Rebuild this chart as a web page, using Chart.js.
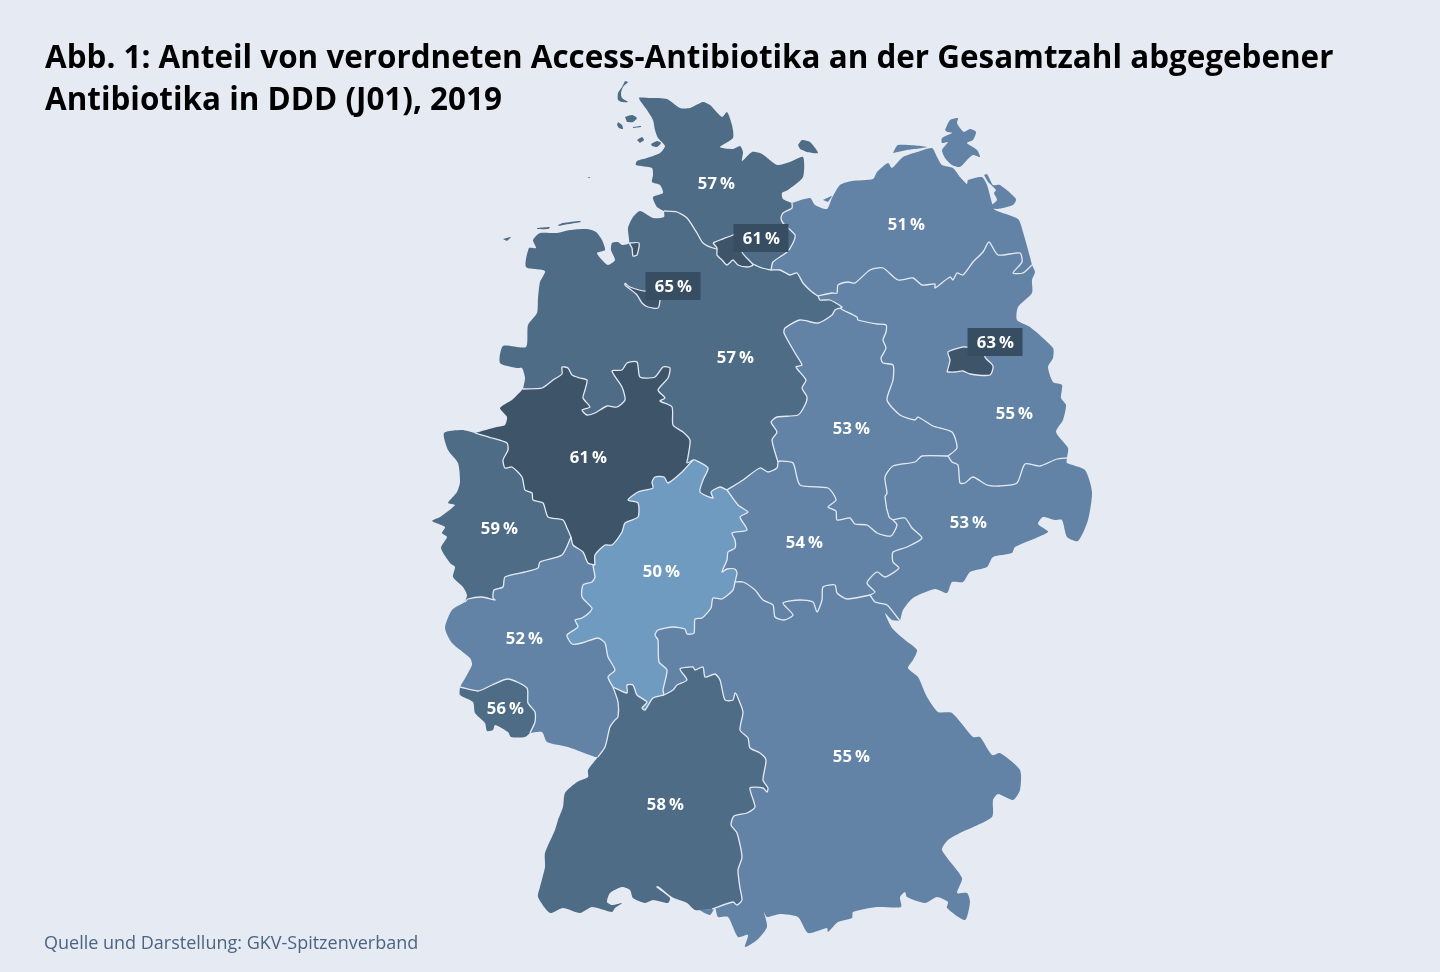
<!DOCTYPE html>
<html lang="de"><head><meta charset="utf-8">
<script src="https://cdn.jsdelivr.net/npm/chart.js@4"></script>
<style>
html,body{margin:0;padding:0;background:#e5eaf3;width:1440px;height:972px;overflow:hidden}
#c{position:absolute;left:0;top:0;width:1440px;height:972px}
#t{position:absolute;left:45px;top:35px;margin:0;font:700 31.4px/42px "Open Sans";color:#000;white-space:nowrap}
#s{position:absolute;left:44px;top:930px;font:400 18px/24px "Open Sans";color:#4b6480;white-space:nowrap}
</style></head><body>
<canvas id="c" width="1440" height="972"></canvas>
<h1 id="t">Abb. 1: Anteil von verordneten Access-Antibiotika an der Gesamtzahl abgegebener<br>Antibiotika in DDD (J01), 2019</h1>
<div id="s">Quelle und Darstellung: GKV-Spitzenverband</div>
<script>
// ---- values ----
const labelTexts=["57 %","61 %","51 %","65 %","57 %","63 %","55 %","53 %","61 %","53 %","54 %","59 %","50 %","52 %","56 %","58 %","55 %"];
const labelX=[716,761,906,673,735,995,1014,851,588,968,804,499,661,524,505,665,851];
const labelY=[183,238,224,286,357,342,413,428,457,522,542,528,571,638,708,804,756];
const labelBoxed=[0,1,0,1,0,1,0,0,0,0,0,0,0,0,0,0,0];

// ---- shared borders (map coordinates) ----
const borderSHNds=[[664,211],[677,212],[687,218],[697,233],[703,243],[713,248],[730,252],[753,264],[762,268],[771,270]];
const borderSHMV=[[792,203],[792,208],[783,213],[781,218],[783,223],[795,235],[793,243],[787,252],[773,262],[771,270]];
const borderNdsMV=[[771,270],[780,270],[790,275],[797,273],[803,283],[812,292],[818,296]];
const borderNdsBB=[[818,296],[820,300],[830,300],[842,307],[840,308]];
const borderBBMV=[[818,296],[832,293],[837,293],[838,285],[848,282],[855,283],[870,270],[883,268],[898,280],[913,278],[922,285],[935,284],[935,288],[950,277],[953,280],[957,273],[963,275],[973,262],[983,252],[989,242],[998,255],[1020,253],[1022,262],[1013,273],[1023,273],[1032,265]];
const borderNdsST=[[840,308],[835,310],[832,315],[818,323],[800,320],[785,328],[784,333],[795,353],[802,365],[796,367],[806,380],[802,388],[807,397],[805,405],[798,415],[777,417],[771,422],[777,432],[772,440],[778,462]];
const borderNdsThu=[[778,462],[777,468],[768,472],[760,468],[743,480],[727,490]];
const borderNdsHes=[[727,490],[720,487],[711,492],[713,498],[700,492],[703,480],[708,468],[695,460],[693,460]];
const borderNRWNds=[[523,389],[542,388],[553,380],[562,374],[562,367],[568,368],[572,375],[580,378],[587,380],[585,390],[583,398],[590,407],[582,410],[587,415],[595,413],[607,406],[617,407],[625,400],[622,387],[612,371],[622,370],[627,363],[637,362],[640,377],[655,377],[663,367],[670,368],[668,378],[658,390],[665,398],[660,401],[672,407],[673,425],[683,432],[690,440],[688,457],[687,463],[693,460]];
const borderNRWHes=[[693,460],[682,472],[668,483],[664,477],[655,477],[652,482],[653,488],[638,492],[628,500],[638,503],[638,517],[625,523],[622,532],[612,545],[605,545],[595,555],[595,565]];
const borderNRWRP=[[595,565],[588,563],[583,552],[573,545],[571,537]];
const border59NRW=[[475,433],[492,438],[507,443],[508,450],[503,460],[505,468],[512,467],[522,477],[525,490],[532,493],[533,500],[543,503],[548,517],[563,520],[567,528],[571,537]];
const border5952=[[571,537],[562,555],[540,562],[538,568],[525,572],[505,577],[503,587],[494,590],[493,598],[495,600],[482,597],[468,599],[465,602]];
const borderRPHes=[[595,565],[593,565],[595,577],[592,582],[583,585],[582,597],[592,608],[590,612],[582,618],[575,620],[578,627],[567,635],[572,644],[582,643],[598,638],[605,643],[608,657],[615,670],[608,677],[613,687]];
const borderHesBW=[[664,695],[653,698],[645,710],[642,708],[647,702],[637,695],[633,685],[627,685],[627,693],[613,687]];
const borderHesBav=[[735,582],[733,590],[722,599],[713,598],[711,608],[702,618],[695,619],[694,633],[687,634],[685,629],[673,627],[658,630],[655,635],[658,640],[659,662],[667,670],[663,690],[664,695]];
const borderHesThu=[[735,582],[737,573],[735,569],[727,569],[722,572],[727,560],[728,552],[735,548],[735,540],[732,533],[747,530],[740,517],[748,512],[738,505],[727,490]];
const borderSTBB=[[840,308],[843,310],[857,317],[858,320],[877,324],[886,325],[886,332],[883,340],[886,348],[881,358],[883,363],[893,365],[893,380],[887,400],[900,415],[915,420],[918,417],[933,426],[952,432],[957,448],[948,456]];
const borderBBSax=[[948,456],[952,462],[958,465],[960,483],[965,483],[973,477],[987,485],[1000,486],[1017,483],[1025,464],[1040,466],[1057,459],[1067,458]];
const borderSTSax=[[948,456],[922,456],[915,462],[893,466],[885,477],[887,493],[885,497],[889,517],[893,520]];
const borderSTThu=[[778,462],[780,461],[793,463],[800,485],[828,488],[836,500],[828,507],[836,511],[837,520],[850,518],[855,524],[867,525],[877,533],[891,536],[897,525],[893,520]];
const borderSaxThu=[[893,520],[905,518],[912,528],[922,538],[907,547],[893,552],[893,562],[899,568],[885,577],[877,572],[867,583],[875,592],[870,595]];
const borderThuBav=[[870,595],[847,599],[837,593],[835,585],[823,587],[822,600],[817,612],[813,602],[800,600],[783,603],[793,615],[784,620],[775,617],[773,605],[763,600],[755,590],[743,582],[735,582]];
const borderSaxBav=[[870,595],[875,602],[887,605],[897,617],[900,621]];
const borderBWBav=[[664,695],[673,690],[677,685],[687,680],[680,669],[693,667],[695,670],[703,667],[705,677],[715,674],[720,680],[725,700],[733,700],[735,693],[738,698],[743,712],[740,730],[748,738],[750,748],[760,753],[766,760],[763,780],[768,788],[767,792],[763,788],[750,788],[755,807],[747,813],[734,816],[731,825],[737,833],[742,857],[738,870],[740,888],[742,900],[737,905],[733,902],[712,909]];
const borderBWRP=[[613,687],[618,702],[618,717],[615,720],[610,727],[605,747],[598,757]];
const borderRPSaar=[[460,687],[478,691],[492,685],[508,679],[527,688],[528,703],[535,712],[535,722],[530,733]];

// ---- coasts and outer frontiers ----
const coastSH=[[664,211],[657,207],[653,197],[663,193],[660,185],[652,182],[653,175],[652,168],[636,165],[637,161],[647,158],[660,153],[665,146],[658,138],[655,130],[653,120],[647,110],[639,98],[650,98],[667,99],[680,108],[690,108],[703,102],[710,105],[722,117],[727,112],[732,125],[733,138],[720,147],[733,149],[740,146],[743,152],[742,161],[752,152],[762,154],[777,165],[790,162],[803,157],[803,177],[788,190],[782,193],[783,199],[792,203]];
const coastMV=[[792,203],[810,198],[815,205],[827,209],[832,198],[840,185],[852,181],[873,179],[877,172],[888,163],[892,168],[903,157],[917,152],[932,148],[937,157],[942,165],[953,168],[960,177],[967,184],[968,180],[982,177],[987,185],[992,203],[995,210],[1018,219],[1023,232],[1030,257],[1032,265]];
const coastBB=[[1032,265],[1035,272],[1032,280],[1032,293],[1018,307],[1017,320],[1030,327],[1053,348],[1053,358],[1048,367],[1053,382],[1062,385],[1061,398],[1066,405],[1063,420],[1056,432],[1068,448],[1067,458]];
const coastSax=[[1067,458],[1067,463],[1085,470],[1092,492],[1088,520],[1078,541],[1067,537],[1062,520],[1055,520],[1043,517],[1038,524],[1048,532],[1015,547],[1012,553],[993,557],[987,567],[970,572],[963,582],[952,582],[947,593],[935,589],[913,598],[903,610],[900,621]];
const coastBav=[[900,621],[892,620],[885,613],[892,628],[905,640],[917,650],[913,660],[908,668],[918,677],[927,697],[938,712],[952,713],[973,737],[980,737],[992,755],[1000,753],[1020,770],[1020,790],[1013,800],[998,794],[993,800],[992,817],[960,833],[948,840],[942,850],[962,878],[957,893],[967,893],[970,902],[965,920],[947,908],[948,902],[937,897],[925,903],[907,897],[905,892],[900,897],[901,907],[877,907],[853,912],[852,918],[838,922],[828,932],[827,928],[808,933],[798,917],[780,914],[767,917],[764,912],[767,927],[757,940],[745,947],[748,935],[738,937],[728,917],[718,917],[715,908],[710,915],[700,910],[712,909]];
const coastBW=[[598,757],[588,770],[588,777],[577,782],[565,793],[563,807],[558,820],[555,830],[545,853],[545,867],[540,887],[538,897],[550,913],[563,908],[580,913],[592,907],[612,912],[615,908],[622,903],[612,905],[607,902],[610,893],[622,887],[630,890],[633,898],[645,903],[653,900],[668,903],[670,898],[656,887],[658,886],[672,897],[687,903],[695,910],[712,909]];
const coastRPW=[[465,602],[452,610],[445,628],[452,643],[470,658],[472,665],[460,687]];
const coastRPS=[[530,733],[542,732],[547,742],[568,747],[595,757],[598,757]];
const coastSaar=[[460,687],[460,695],[473,702],[475,713],[485,723],[487,731],[493,730],[495,725],[508,732],[511,737],[525,737],[530,733]];
const coast59=[[475,433],[462,430],[444,433],[448,450],[458,463],[460,482],[457,492],[448,503],[455,505],[440,517],[432,521],[445,527],[442,533],[447,537],[441,548],[450,563],[455,567],[453,577],[463,587],[467,595],[465,602]];
const coastNRW=[[475,433],[497,427],[505,425],[507,417],[500,408],[512,400],[523,389]];
const coastNds=[[523,389],[525,378],[522,368],[517,368],[500,363],[503,346],[526,347],[528,325],[537,313],[538,298],[540,282],[545,271],[526,267],[529,248],[536,248],[533,240],[540,233],[557,233],[570,230],[587,229],[596,232],[602,240],[605,250],[597,253],[602,260],[608,265],[615,260],[611,250],[612,243],[618,242],[622,245],[629,243],[628,228],[633,217],[640,211],[653,218],[664,217],[664,211]];

// ---- islands ----
const islandsSH=[
 [[625,81],[628,82],[623,87],[621,93],[622,98],[628,102],[622,102],[618,100],[618,93],[622,87]],
 [[625,117],[632,115],[637,118],[633,122],[627,122]],
 [[618,122],[622,125],[623,129],[619,128],[617,125]],
 [[633,127],[641,126],[641,127],[633,128]],
 [[637,140],[642,137],[644,140],[640,143]],
 [[651,144],[657,141],[661,143],[657,147],[652,146]],
 [[798,145],[802,140],[810,142],[818,153],[807,152],[800,149]],
 [[587,177],[590,177],[590,178]]];
const islandsNds=[
 [[503,239],[511,237],[507,241]],
 [[537,228],[550,227],[548,229],[537,229]],
 [[558,225],[563,223],[580,221],[581,222],[563,225],[559,226]]];
const islandsMV=[
 [[823,200],[832,196],[828,202]],
 [[893,153],[898,145],[927,147],[907,150]],
 [[945,130],[950,120],[958,118],[957,123],[960,128],[964,132],[970,129],[976,132],[973,140],[967,143],[977,150],[980,157],[973,155],[967,160],[960,167],[952,165],[945,158],[942,150],[948,142],[942,143],[942,138],[952,133],[947,132]],
 [[984,175],[987,174],[993,185],[1000,185],[1016,199],[1013,205],[997,209],[990,207],[997,200],[994,193],[996,190],[988,182]]];

// ---- city states ----
const hamburg=[[713,243],[720,240],[733,235],[738,232],[750,245],[742,252],[753,265],[747,267],[738,265],[733,260],[727,265],[722,260],[717,255],[717,248]];
const bremen=[[625,283],[630,287],[646,291],[650,285],[660,285],[660,300],[658,308],[648,307],[642,303],[637,295],[625,285]];
const bremerhaven=[[629,243],[639,243],[637,255],[633,256],[632,248]];
const berlin=[[947,372],[950,360],[948,352],[963,347],[968,347],[985,340],[985,357],[993,366],[990,375],[970,374],[963,371],[955,372]];

const rev=a=>a.slice().reverse();
const C57='#4f6c87',C53='#6283a6',C50='#709bc1',C61='#3e5469',BOX='#364d62',LINE='#e3e9f2';

const areas=[
 [C57,[...coastSH,...borderSHMV,...rev(borderSHNds)]],
 [C53,[...coastMV,...rev(borderBBMV),...rev(borderNdsMV),...rev(borderSHMV)]],
 [C53,[...borderBBMV,...coastBB,...rev(borderBBSax),...rev(borderSTBB),...rev(borderNdsBB)]],
 [C57,[...coastNds,...borderSHNds,...borderNdsMV,...borderNdsBB,...borderNdsST,...borderNdsThu,...borderNdsHes,...rev(borderNRWNds)]],
 [C53,[...rev(borderNdsST),...borderSTBB,...borderSTSax,...rev(borderSTThu)]],
 [C53,[...rev(borderSTSax),...borderBBSax,...coastSax,...rev(borderSaxBav),...rev(borderSaxThu)]],
 [C53,[...borderSTThu,...borderSaxThu,...borderThuBav,...borderHesThu,...rev(borderNdsThu)]],
 [C50,[...rev(borderNdsHes),...rev(borderHesThu),...borderHesBav,...borderHesBW,...rev(borderRPHes),...rev(borderNRWHes)]],
 [C61,[...borderNRWNds,...borderNRWHes,...borderNRWRP,...rev(border59NRW),...coastNRW]],
 [C57,[...coast59,...rev(border5952),...rev(border59NRW)]],
 [C53,[...border5952,...coastRPW,...borderRPSaar,...coastRPS,...rev(borderBWRP),...rev(borderRPHes),...borderNRWRP]],
 [C57,[...borderRPSaar,...rev(coastSaar)]],
 [C57,[...rev(borderHesBW),...borderBWBav,...rev(coastBW),...rev(borderBWRP)]],
 [C53,[...rev(borderThuBav),...borderSaxBav,...coastBav,...rev(borderBWBav),...rev(borderHesBav)]],
 ...islandsSH.map(p=>[C57,p]),...islandsNds.map(p=>[C57,p]),...islandsMV.map(p=>[C53,p])
];
const lines=[borderSHNds,borderSHMV,borderNdsMV,borderNdsBB,borderBBMV,borderNdsST,borderNdsThu,borderNdsHes,borderNRWNds,borderNRWHes,borderNRWRP,border59NRW,border5952,borderRPHes,borderHesBW,borderHesBav,borderHesThu,borderSTBB,borderBBSax,borderSTSax,borderSTThu,borderSaxThu,borderThuBav,borderSaxBav,borderBWBav,borderBWRP,borderRPSaar];
const cities=[[C61,hamburg],[C61,bremen],[C61,bremerhaven],[C61,berlin]];

const xy=p=>p.map(([x,y])=>({x,y}));
const base={showLine:true,pointRadius:0,pointHoverRadius:0,tension:0.22,spanGaps:false};
const drawn=[
 ...areas.map(([c,p])=>({...base,data:xy(p),fill:'shape',backgroundColor:c,borderColor:c,borderWidth:0})),
 ...lines.map(p=>({...base,data:xy(p),fill:false,borderColor:LINE,borderWidth:1.3,borderJoinStyle:'round'})),
 ...cities.map(([c,p])=>({...base,data:xy([...p,p[0]]),fill:'shape',backgroundColor:c,borderColor:LINE,borderWidth:1.3,borderJoinStyle:'round'}))
];
drawn.forEach((d,i)=>d.order=drawn.length-i);

const labelPlugin={id:'mapLabels',afterDatasetsDraw(ch){
 const {ctx,scales:{x,y}}=ch;ctx.save();
 ctx.textAlign='center';ctx.textBaseline='middle';
 labelTexts.forEach((t,i)=>{
  const px=x.getPixelForValue(labelX[i]),py=y.getPixelForValue(labelY[i]);
  if(labelBoxed[i]){ctx.fillStyle=BOX;ctx.fillRect(px-27.5,py-14,55,28);}
  ctx.fillStyle='#fff';ctx.font='700 16.6px "Open Sans"';ctx.letterSpacing='0.2px';
  ctx.fillText(t.replace(' ','\u2009'),px+0.5,py+1);
 });
 ctx.restore();
}};

new Chart(document.getElementById('c'),{
 type:'scatter',
 data:{datasets:drawn},
 options:{responsive:false,animation:false,events:[],layout:{padding:0},
  plugins:{legend:{display:false},tooltip:{enabled:false},title:{display:false}},
  scales:{x:{type:'linear',min:0,max:1440,display:false},y:{type:'linear',min:0,max:972,reverse:true,display:false}}},
 plugins:[labelPlugin]
});
</script>
</body></html>
